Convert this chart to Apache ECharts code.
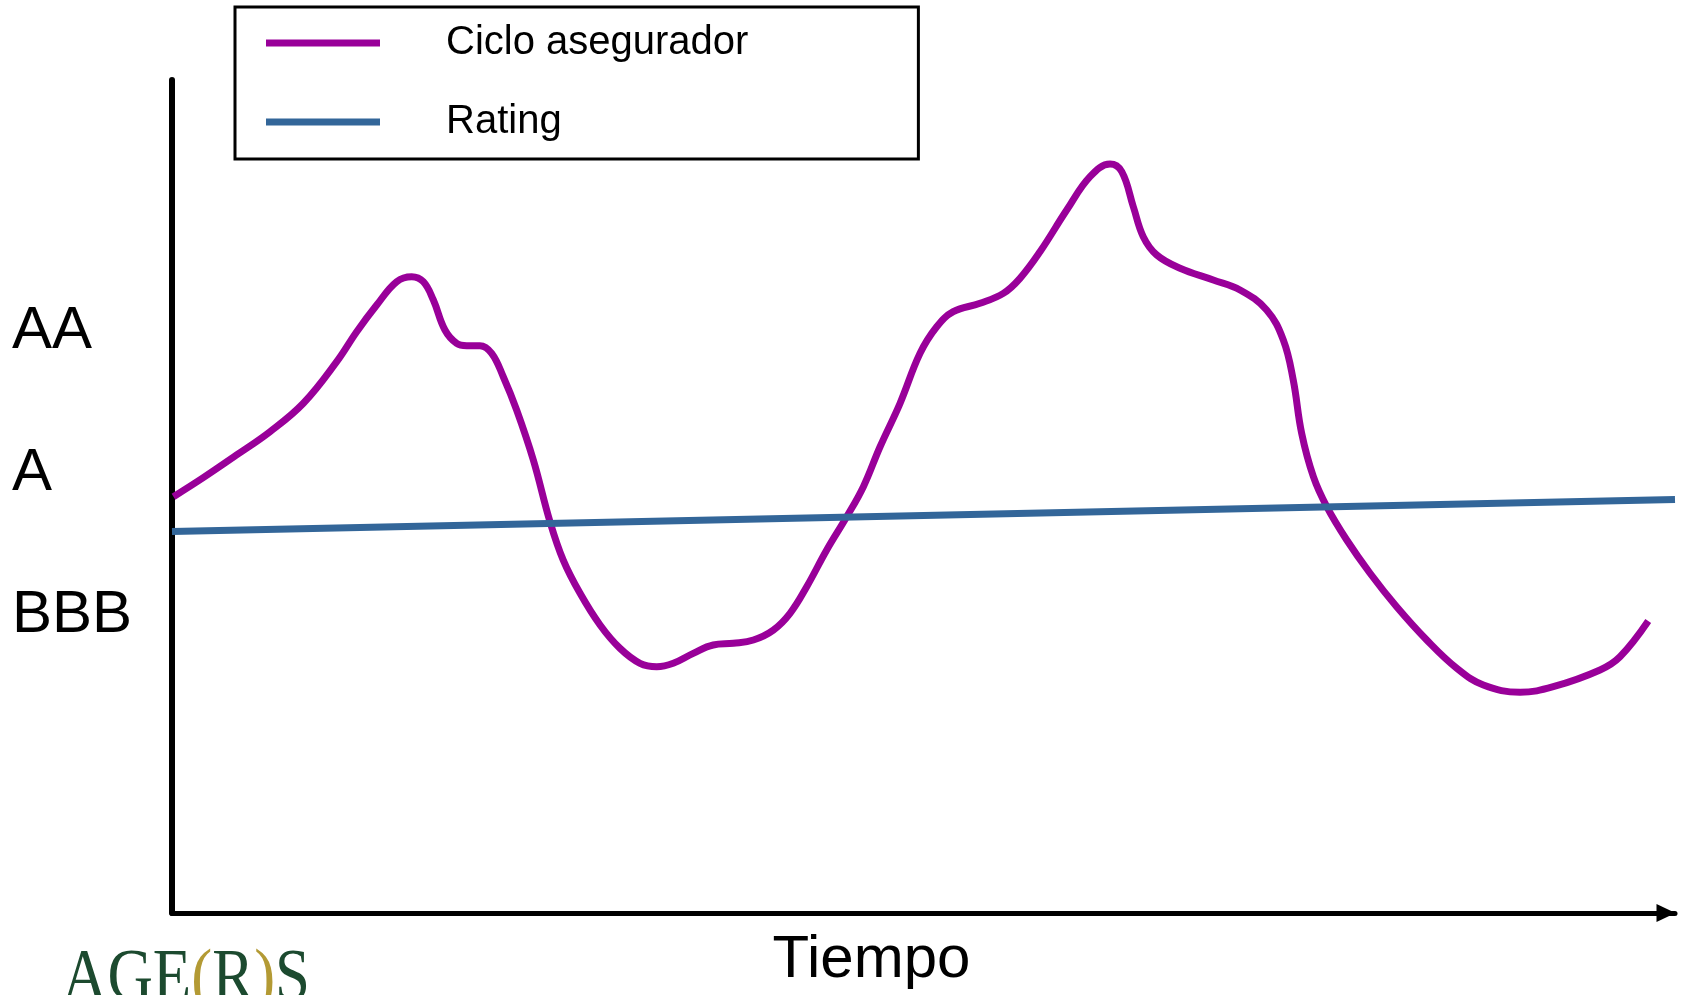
<!DOCTYPE html>
<html>
<head>
<meta charset="utf-8">
<script src="https://cdn.jsdelivr.net/npm/echarts@6/dist/echarts.min.js"></script>
<style>
html,body{margin:0;padding:0;background:#fff;}
#chart{width:1681px;height:995px;}
</style>
</head>
<body>
<div id="chart"></div>
<script>
// Time axis positions (0..100) and rating level of the insurance cycle
var cicloT = [0.1,2.08,4.30,6.52,8.74,10.96,12.29,13.62,14.95,15.95,
  16.72,17.39,18.16,18.94,19.61,20.49,21.27,22.04,22.93,24.04,
  25.15,26.03,27.15,28.48,29.81,31.14,32.25,33.35,34.68,36.01,
  37.35,38.68,40.01,41.12,42.23,43.56,44.89,46.00,47.11,48.44,
  49.77,50.88,51.98,53.76,55.31,56.42,57.75,59.53,61.08,62.41,
  63.19,63.96,64.62,65.52,67.07,69.28,71.06,72.83,73.94,74.60,
  75.16,75.94,76.83,78.16,79.71,81.48,83.48,85.48,87.25,89.69,
  91.90,95.01,96.34,98.22];
var cicloR = [1.833,1.967,2.127,2.291,2.491,2.784,2.995,3.183,3.347,3.382,
  3.347,3.218,3.007,2.913,2.897,2.897,2.843,2.678,2.444,2.092,
  1.657,1.387,1.153,0.930,0.765,0.660,0.636,0.660,0.730,0.789,
  0.801,0.824,0.894,1.012,1.199,1.458,1.692,1.904,2.185,2.491,
  2.843,3.030,3.136,3.195,3.265,3.371,3.558,3.852,4.087,4.176,
  4.122,3.875,3.664,3.535,3.442,3.359,3.289,3.148,2.937,2.655,
  2.280,1.974,1.763,1.528,1.294,1.058,0.824,0.625,0.507,0.456,
  0.495,0.613,0.706,0.958];
var ratingT = [0, 100];
var ratingR = [1.588, 1.813];
var ratingLevels = [1, 2, 3];
var ratingLabels = ['BBB', 'A', 'AA'];
var seriesNames = ['Ciclo asegurador', 'Rating'];
var xAxisName = 'Tiempo';

function pairs(xs, ys) { return xs.map(function (x, i) { return [x, ys[i]]; }); }

var FONT = "'Liberation Sans', Arial, sans-serif";
var chart = echarts.init(document.getElementById('chart'), null, {renderer: 'canvas'});
chart.setOption({
  animation: false,
  backgroundColor: '#ffffff',
  grid: {left: 172, right: 6, top: 80, bottom: 82},
  legend: {
    data: seriesNames,
    orient: 'vertical',
    left: 235, top: 7,
    padding: [15, 170, 16, 31],
    itemGap: 37,
    itemWidth: 114, itemHeight: 7,
    icon: 'rect',
    selectedMode: false,
    borderColor: '#000', borderWidth: 3,
    textStyle: {fontSize: 40, fontFamily: FONT, color: '#000', lineHeight: 42, padding: [0, 0, 0, 61]}
  },
  xAxis: {
    type: 'value', min: 0, max: 100,
    name: xAxisName, nameLocation: 'middle', nameGap: 47,
    nameTextStyle: {fontSize: 60, fontFamily: FONT, color: '#000', verticalAlign: 'middle', padding: [0, 104, 0, 0]},
    axisLine: {show: true, onZero: false, lineStyle: {color: '#000', width: 5}, symbol: ['none', 'triangle'], symbolSize: [18, 19], symbolOffset: [0, -9]},
    axisTick: {show: false}, axisLabel: {show: false}, splitLine: {show: false}
  },
  yAxis: {
    type: 'value', min: -1.0986, max: 4.7676,
    axisLine: {show: true, onZero: false, lineStyle: {color: '#000', width: 6}},
    axisTick: {show: false}, splitLine: {show: false},
    axisLabel: {
      show: true, customValues: ratingLevels, align: 'left', margin: 160,
      fontSize: 60, fontFamily: FONT, color: '#000',
      formatter: function (v) { var i = ratingLevels.indexOf(Math.round(v)); return i >= 0 ? ratingLabels[i] : ''; }
    }
  },
  graphic: [{
    type: 'text', x: 62, y: 944, scaleX: 0.85, silent: true,
    style: {
      text: '{g|AGE}{y|(}{g|R}{y|)}{g|S}',
      align: 'left', verticalAlign: 'top',
      rich: {
        g: {fontSize: 74, fontFamily: "'Liberation Serif', serif", fill: '#1c4a2f'},
        y: {fontSize: 74, fontFamily: "'Liberation Serif', serif", fill: '#b39a34'}
      }
    }
  }],
  series: [{
    name: seriesNames[0], type: 'line', data: pairs(cicloT, cicloR),
    smooth: 0.4, symbol: 'none', color: '#990099',
    lineStyle: {width: 7, color: '#990099'}
  }, {
    name: seriesNames[1], type: 'line', data: pairs(ratingT, ratingR),
    symbol: 'none', color: '#336699',
    lineStyle: {width: 7, color: '#336699'}
  }]
});
</script>
</body>
</html>
